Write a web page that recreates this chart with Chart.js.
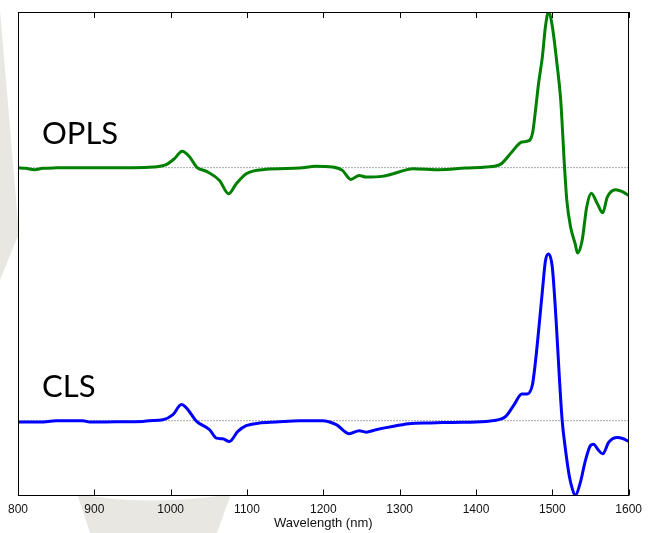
<!DOCTYPE html>
<html>
<head>
<meta charset="utf-8">
<script src="https://cdn.jsdelivr.net/npm/chart.js@4"></script>
<style>
  html, body { margin: 0; padding: 0; background: #ffffff; }
  canvas { display: block; }
</style>
</head>
<body>
<canvas id="c" width="649" height="533"></canvas>
<script>
// ---- data (arbitrary signal units) ----
const xTicks = [800, 900, 1000, 1100, 1200, 1300, 1400, 1500, 1600];
const seriesNames = ["OPLS", "CLS"];
const seriesOffsets = [2.52, 0];   // vertical stacking offset of each spectrum

const oplsWavelength = [800, 810, 822, 832, 850, 900, 950, 977, 994, 1005, 1015, 1025, 1034, 1047, 1064, 1076, 1086, 1099, 1125, 1169, 1190, 1212, 1225, 1236, 1247, 1256, 1277, 1299, 1317, 1352, 1386, 1413, 1432, 1447, 1460, 1467, 1474, 1478, 1482, 1487, 1491, 1495, 1500, 1506, 1511, 1516, 1519, 1524, 1530, 1533, 1539, 1545, 1551, 1559, 1566, 1572, 1583, 1591, 1600];
const oplsValue = [-0.002, -0.007, -0.02, -0.007, -0.002, 0, 0, 0.006, 0.03, 0.09, 0.163, 0.106, 0.006, -0.037, -0.127, -0.26, -0.16, -0.06, -0.017, -0.004, 0.013, 0.006, -0.027, -0.117, -0.077, -0.094, -0.087, -0.044, -0.01, -0.02, -0.004, 0.006, 0.033, 0.156, 0.256, 0.263, 0.34, 0.573, 0.84, 1.106, 1.406, 1.55, 1.406, 1.04, 0.673, 0.006, -0.327, -0.594, -0.76, -0.85, -0.727, -0.394, -0.254, -0.36, -0.45, -0.294, -0.22, -0.237, -0.277];

const clsWavelength = [800, 829, 850, 885, 894, 930, 964, 972, 990, 1003, 1014, 1020, 1034, 1051, 1060, 1068, 1077, 1088, 1099, 1116, 1138, 1169, 1199, 1217, 1234, 1247, 1256, 1269, 1286, 1312, 1340, 1369, 1413, 1430, 1439, 1450, 1460, 1467, 1474, 1478, 1482, 1487, 1491, 1495, 1500, 1505, 1509, 1513, 1517, 1522, 1526, 1530, 1537, 1543, 1550, 1554, 1560, 1566, 1574, 1585, 1593, 1600];
const clsValue = [-0.014, -0.014, 0, 0, -0.014, -0.01, -0.007, 0, 0.01, 0.06, 0.16, 0.133, -0.007, -0.09, -0.174, -0.18, -0.207, -0.107, -0.05, -0.024, -0.014, 0, 0, -0.04, -0.13, -0.1, -0.114, -0.09, -0.064, -0.03, -0.022, -0.017, -0.007, 0.01, 0.043, 0.16, 0.266, 0.266, 0.36, 0.593, 0.893, 1.293, 1.593, 1.66, 1.526, 0.993, 0.46, -0.007, -0.274, -0.54, -0.674, -0.747, -0.607, -0.407, -0.247, -0.234, -0.29, -0.33, -0.214, -0.167, -0.18, -0.207];

const yMin = -0.745, yMax = 4.07;

function pts(xs, ys, off) { return xs.map((x, i) => ({ x: x, y: ys[i] + off })); }

const watermarkPlugin = {
  id: 'watermark',
  beforeDraw(chart) {
    const ctx = chart.ctx, a = chart.chartArea;
    ctx.save();
    ctx.fillStyle = '#e8e7e2';
    // left wedge
    ctx.beginPath();
    ctx.moveTo(0, 10); ctx.lineTo(18, 222); ctx.lineTo(18, 236); ctx.lineTo(15, 243); ctx.lineTo(0, 280);
    ctx.closePath(); ctx.fill();
    // bottom crescent
    ctx.beginPath();
    ctx.moveTo(77, 494);
    ctx.quadraticCurveTo(150, 507, 231, 494);
    ctx.lineTo(217, 533); ctx.lineTo(90, 533);
    ctx.closePath(); ctx.fill();
    // white plotting area
    ctx.fillStyle = '#ffffff';
    ctx.fillRect(a.left, a.top, a.right - a.left, a.bottom - a.top);
    ctx.restore();
  },
  afterDatasetsDraw(chart) {
    const ctx = chart.ctx, a = chart.chartArea, xs = chart.scales.x, ys = chart.scales.y;
    ctx.save();
    ctx.strokeStyle = '#000000';
    ctx.lineWidth = 1;
    ctx.strokeRect(Math.round(a.left) + 0.5, Math.round(a.top) + 0.5, Math.round(a.right - a.left) - 1, Math.round(a.bottom - a.top) - 1);
    ctx.beginPath();
    xTicks.forEach(v => {
      const px = Math.round(xs.getPixelForValue(v)) + 0.5;
      ctx.moveTo(px, a.bottom); ctx.lineTo(px, a.bottom - 6);
      ctx.moveTo(px, a.top); ctx.lineTo(px, a.top + 6);
    });
    ctx.stroke();
    // series labels
    ctx.fillStyle = '#000000';
    ctx.font = '31px Lato';
    ctx.textBaseline = 'alphabetic';
    ctx.textAlign = 'left';
    seriesNames.forEach((n, i) => {
      const y = ys.getPixelForValue(seriesOffsets[i]) - 24;
      ctx.fillText(n, a.left + 24, y);
    });
    ctx.restore();
  }
};

new Chart(document.getElementById('c'), {
  type: 'line',
  data: {
    datasets: [
      { label: 'OPLS base', data: pts([800, 1600], [0, 0], seriesOffsets[0]), borderColor: '#a8a8a8', borderWidth: 1, borderDash: [2, 1], pointRadius: 0, order: 10 },
      { label: 'CLS base', data: pts([800, 1600], [0, 0], seriesOffsets[1]), borderColor: '#a8a8a8', borderWidth: 1, borderDash: [2, 1], pointRadius: 0, order: 10 },
      { label: seriesNames[0], data: pts(oplsWavelength, oplsValue, seriesOffsets[0]), borderColor: '#008000', borderWidth: 3, pointRadius: 0, cubicInterpolationMode: 'monotone', borderJoinStyle: 'round', borderCapStyle: 'round', order: 1 },
      { label: seriesNames[1], data: pts(clsWavelength, clsValue, seriesOffsets[1]), borderColor: '#0000ff', borderWidth: 3, pointRadius: 0, cubicInterpolationMode: 'monotone', borderJoinStyle: 'round', borderCapStyle: 'round', order: 0 }
    ]
  },
  options: {
    responsive: false,
    animation: false,
    devicePixelRatio: 1,
    layout: { padding: { left: 18, right: 19, top: 12, bottom: 0 } },
    plugins: { legend: { display: false }, tooltip: { enabled: false } },
    scales: {
      x: {
        type: 'linear', min: 800, max: 1600,
        afterBuildTicks: (s) => { s.ticks = xTicks.map(v => ({ value: v })); },
        grid: { display: false, drawTicks: false },
        border: { display: false },
        ticks: { padding: 7, color: '#111111', font: { family: 'Liberation Sans, Arial, sans-serif', size: 12 }, maxRotation: 0, autoSkip: false, callback: (v) => String(v) },
        title: { display: true, text: 'Wavelength (nm)', color: '#111111', font: { family: 'Liberation Sans, Arial, sans-serif', size: 13 }, padding: { top: -8, bottom: 1.5 } }
      },
      y: { display: false, min: yMin, max: yMax }
    }
  },
  plugins: [watermarkPlugin]
});
</script>
</body>
</html>
